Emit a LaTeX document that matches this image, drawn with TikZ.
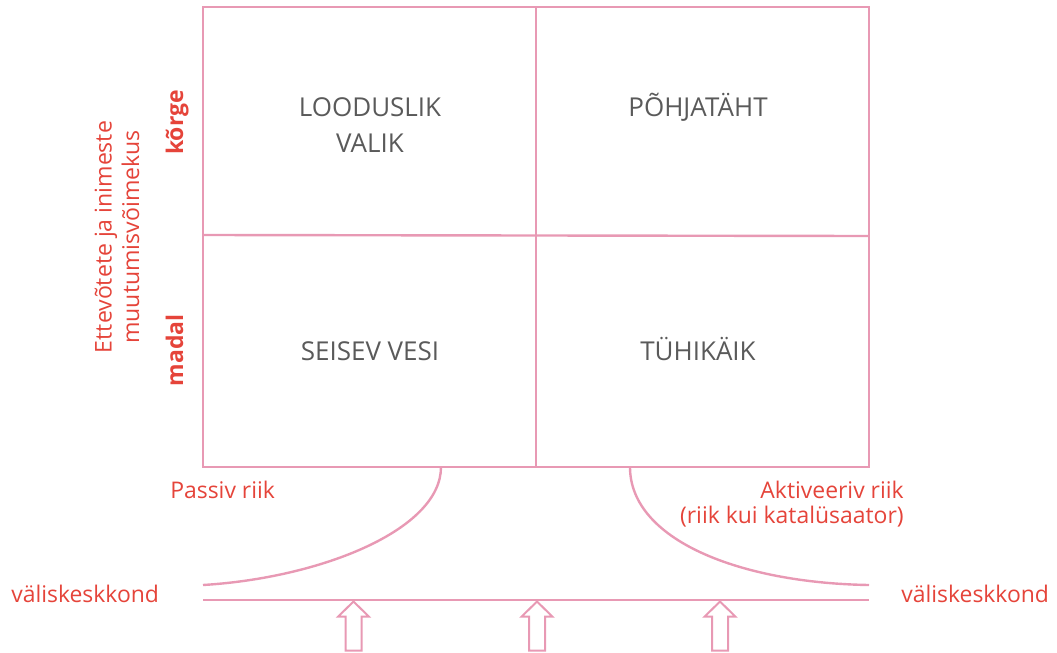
\documentclass[tikz,border=0pt]{standalone}
\usepackage{fontspec}
\setmainfont{Open Sans}
\definecolor{pinkline}{HTML}{E899B4}
\definecolor{redtxt}{HTML}{E5443A}
\definecolor{graytxt}{HTML}{5A5A5A}
\begin{document}
\begin{tikzpicture}[x=0.75pt,y=-0.75pt,
  ln/.style={draw=pinkline,line width=1.8pt},
  cell/.style={text=graytxt,font=\fontsize{19.5}{26.5}\selectfont,inner sep=0pt,align=center},
  lab/.style={text=redtxt,font=\fontsize{17.2}{19}\selectfont,inner sep=0pt},
  side/.style={text=redtxt,font=\fontsize{17.3}{20.5}\selectfont,inner sep=0pt,align=center,rotate=90},
  sidebold/.style={text=redtxt,font=\bfseries\fontsize{17.2}{18}\selectfont,inner sep=0pt,rotate=90},
  uparrow/.style={draw=pinkline,line width=1.5pt,fill=white,line join=miter}]
\useasboundingbox (0,0) rectangle (1057,653);
% grid
\coordinate (tl) at (203,7);
\coordinate (br) at (869,467);
\draw[ln] (tl) rectangle (br);
\coordinate (vt) at (536,7);
\coordinate (vb) at (536,467);
\draw[ln] (vt) -- (vb);
\coordinate (hl) at (203,235);
\coordinate (hr) at (869,236);
\draw[ln] (hl) -- (hr);
% cell texts
\node[cell] (c1) at (370,125) {LOODUSLIK\\VALIK};
\node[cell,anchor=base] (c2) at (698,116.5) {PÕHJATÄHT};
\node[cell,anchor=base] (c3) at (370,360) {SEISEV VESI};
\node[cell,anchor=base] (c4) at (698,360) {TÜHIKÄIK};
% side labels
\node[side] (ax) at (117,237) {Ettevõtete ja inimeste\\muutumisvõimekus};
\node[sidebold,anchor=base] (hi) at (183,122.5) {kõrge};
\node[sidebold,anchor=base] (lo) at (183,350.5) {madal};
% bottom
\node[lab,anchor=base west] (pas) at (170,498) {Passiv riik};
\node[lab,anchor=base east] (akt1) at (904,498) {Aktiveeriv riik};
\node[lab,anchor=base east] (akt2) at (904,523.5) {(riik kui katalüsaator)};
\node[lab,anchor=base west] (vl) at (11,602.5) {väliskeskkond};
\node[lab,anchor=base west] (vr) at (901,602.5) {väliskeskkond};
% curves
\coordinate (ls) at (441,467);
\coordinate (le) at (203,585);
\draw[ln] (ls) .. controls (441,530) and (320,578) .. (le);
\coordinate (rs) at (630,467);
\coordinate (re) at (869,585);
\draw[ln] (rs) .. controls (630,540) and (740,583) .. (re);
\coordinate (gl) at (203,600);
\coordinate (gr) at (869,600);
\draw[ln] (gl) -- (gr);
% arrows
\foreach \ax/\nm in {353.5/a1,537/a2,720/a3}{
  \draw[uparrow] (\ax,601.5) -- (\ax+15.5,616.7) -- (\ax+8,616.7) -- (\ax+8,650.5)
     -- (\ax-8,650.5) -- (\ax-8,616.7) -- (\ax-15.5,616.7) -- cycle;
}
\end{tikzpicture}
\end{document}
